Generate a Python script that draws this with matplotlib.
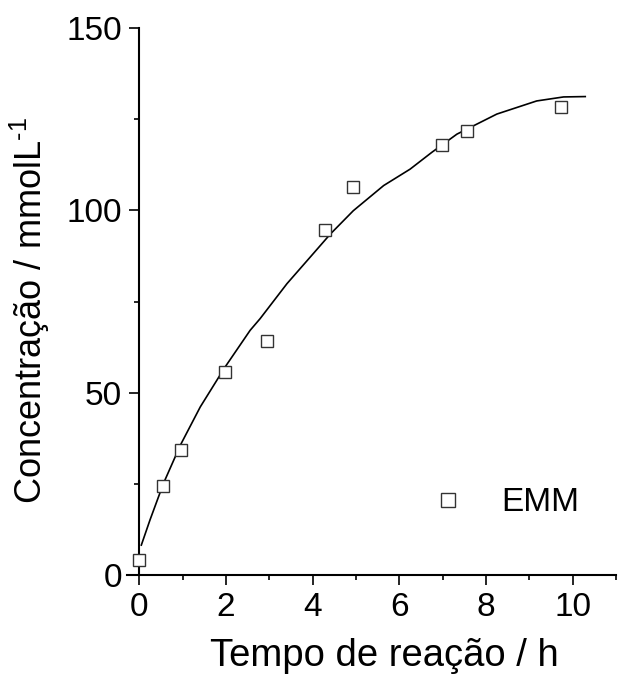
"""
Concentração de EMM em função do tempo de reação (pontos experimentais + curva ajustada).
"""

import matplotlib
matplotlib.use("Agg")
import matplotlib.pyplot as plt
from matplotlib.ticker import MultipleLocator

# Pontos experimentais
tempo_h = [0.0, 0.55, 0.97, 1.98, 2.95, 4.29, 4.94, 6.99, 7.57, 9.73]
conc_emm = [4.0, 24.4, 34.2, 55.6, 64.1, 94.7, 106.5, 118.0, 121.8, 128.4]

# Curva ajustada
curva_x = [0.05, 0.25, 0.56, 0.95, 1.41, 1.98, 2.56, 2.79, 3.41, 3.94, 4.41,
           4.94, 5.64, 6.25, 6.75, 7.33, 8.25, 9.17, 9.79, 10.29]
curva_y = [8.2, 15.1, 25.1, 35.6, 46.1, 57.0, 67.1, 70.3, 79.9, 87.1, 93.5,
           99.9, 106.8, 111.3, 115.9, 120.9, 126.4, 130.0, 131.1, 131.2]

plt.rcParams['font.family'] = ['Liberation Sans', 'DejaVu Sans']
plt.rcParams['mathtext.fontset'] = 'custom'
plt.rcParams['mathtext.rm'] = 'Liberation Sans'

fig = plt.figure(figsize=(6.19, 6.8), dpi=100)
ax = fig.add_axes([0.2052, 0.1544, 0.790, 0.8044])

ax.plot(curva_x, curva_y, color="black", lw=1.2, zorder=2)
ax.plot(tempo_h, conc_emm, ls="none", marker="s", ms=8.5, mfc="white",
        mec="#333333", mew=1.0, label="EMM", zorder=3)

ax.set_xlim(-0.28, 11)
ax.set_ylim(0, 150)

# Eixos estilo Origin
for side in ("top", "right"):
    ax.spines[side].set_visible(False)
ax.spines["left"].set_position(("data", 0))
for side in ("left", "bottom"):
    ax.spines[side].set_linewidth(1.5)

ax.xaxis.set_major_locator(MultipleLocator(2))
ax.xaxis.set_minor_locator(MultipleLocator(1))
ax.yaxis.set_major_locator(MultipleLocator(50))
ax.yaxis.set_minor_locator(MultipleLocator(25))
ax.tick_params(which="major", direction="out", length=7.2, width=1.2,
               labelsize=24, pad=5)
ax.tick_params(which="minor", direction="out", length=3.6, width=1.2)

ax.set_xlabel("Tempo de reação / h", fontsize=27.5)
ax.xaxis.set_label_coords(0.527, -0.115)
ax.set_ylabel("Concentração / mmolL$^{\\mathrm{\\text{-}1}}$", fontsize=26)
ax.yaxis.set_label_coords(-0.153, 0.484)

ax.legend(frameon=False, loc="center left", bbox_to_anchor=(0.623, 0.132),
          fontsize=24, handlelength=1.0, handletextpad=1.1, borderpad=0,
          borderaxespad=0, markerscale=1.15)

fig.savefig("out.png", dpi=100)
plt.close(fig)
